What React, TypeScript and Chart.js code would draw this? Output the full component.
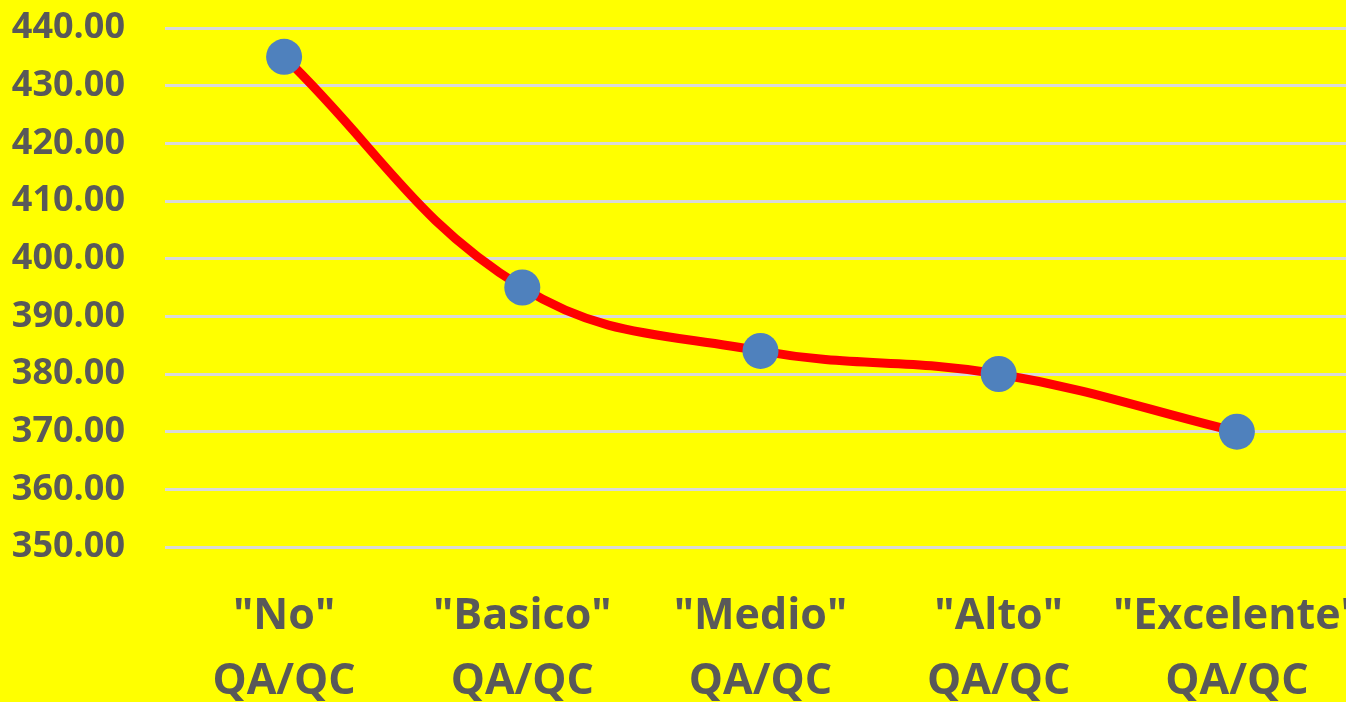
import React, { useEffect, useRef } from "react";
import { Chart, registerables } from "chart.js";

Chart.register(...registerables);

const categories: string[][] = [
  ['"No"', "QA/QC"],
  ['"Basico"', "QA/QC"],
  ['"Medio"', "QA/QC"],
  ['"Alto"', "QA/QC"],
  ['"Excelente"', "QA/QC"],
];
const values: number[] = [435, 395, 384, 380, 370];
const yMin = 350;
const yMax = 440;
const yStep = 10;

const FONT = "'Open Sans', sans-serif";
const W = 1374;
const H = 720;

export default function App() {
  const ref = useRef<HTMLCanvasElement | null>(null);
  useEffect(() => {
    document.body.style.background = "#FFFF00";
    document.body.style.overflow = "hidden";
    const ctx = ref.current!.getContext("2d")!;
    const chart = new Chart(ctx, {
      type: "line",
      data: {
        labels: categories,
        datasets: [
          {
            data: values,
            borderColor: "#FF0000",
            borderWidth: 9,
            tension: 0.4,
            pointRadius: 18,
            pointHoverRadius: 18,
            pointBackgroundColor: "#4F81BD",
            pointBorderWidth: 0,
            pointBorderColor: "#4F81BD",
            fill: false,
          },
        ],
      },
      options: {
        animation: false,
        responsive: false,
        maintainAspectRatio: false,
        layout: { padding: { top: 28, left: 0, right: 6, bottom: 0 } },
        plugins: { legend: { display: false }, tooltip: { enabled: false } },
        scales: {
          x: {
            offset: true,
            grid: { display: false, drawTicks: false },
            border: { display: false },
            ticks: {
              color: "#595959",
              padding: 37,
              maxRotation: 0,
              autoSkip: false,
              font: { family: FONT, size: 43, weight: "bold", lineHeight: 1.51 },
            },
            afterFit: (s: any) => {
              s.height = H - 547;
              s.paddingLeft = 0;
              s.paddingRight = 0;
            },
          },
          y: {
            min: yMin,
            max: yMax,
            grid: { color: "#D9D9D9", lineWidth: 3, drawTicks: false },
            border: { display: false },
            ticks: {
              stepSize: yStep,
              color: "#595959",
              padding: 40,
              font: { family: FONT, size: 36, weight: "bold" },
              callback: (v: any) => Number(v).toFixed(2),
            },
            afterFit: (s: any) => {
              s.width = 165;
              s.paddingTop = 0;
              s.paddingBottom = 0;
            },
          },
        },
      },
    });
    return () => chart.destroy();
  }, []);
  return (
    <div
      style={{
        position: "fixed",
        left: 0,
        top: 0,
        width: W,
        height: H,
        background: "#FFFF00",
      }}
    >
      <canvas ref={ref} width={W} height={H} style={{ width: W, height: H }} />
    </div>
  );
}
